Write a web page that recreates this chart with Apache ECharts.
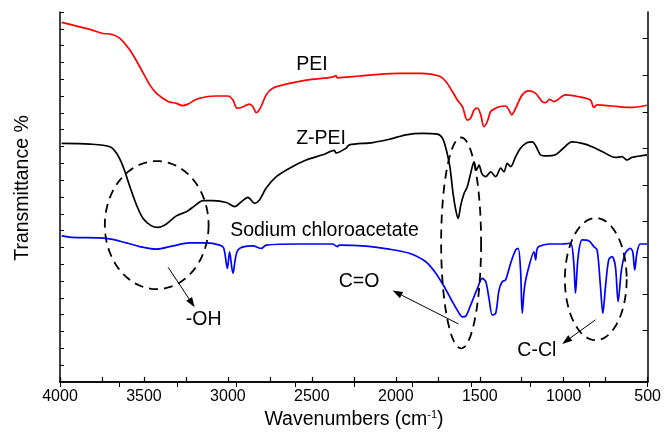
<!DOCTYPE html>
<html>
<head>
<meta charset="utf-8">
<script src="https://cdn.jsdelivr.net/npm/echarts@6/dist/echarts.min.js"></script>
<style>
  html, body { margin: 0; padding: 0; background: #fff; }
  #chart { width: 664px; height: 439px; }
</style>
</head>
<body>
<div id="chart"></div>
<script>
// PEI (red)
var peiWn = [3990, 3822, 3743, 3693, 3643, 3584, 3525, 3465, 3425, 3356, 3307, 3271, 3238, 3188, 3128,
  3069, 3000, 2970, 2946, 2920, 2871, 2851, 2831, 2807, 2772, 2733, 2653, 2534, 2376, 2356,
  2348, 2217, 2138, 1980, 1841, 1742, 1702, 1663, 1633, 1603, 1574, 1554, 1534, 1514, 1494,
  1475, 1455, 1435, 1405, 1385, 1346, 1326, 1310, 1286, 1247, 1207, 1167, 1128, 1108, 1084,
  1059, 989, 910, 841, 821, 801, 712, 593, 504];
var peiT = [97.2, 95.3, 94.2, 94.0, 92.9, 89.7, 85.2, 80.3, 78.0, 75.8, 75.3, 74.7, 75.1, 76.4, 77.1,
  77.3, 77.3, 76.2, 74.0, 74.2, 75.1, 74.4, 72.8, 74.0, 77.6, 79.4, 80.5, 81.6, 82.4, 82.8,
  82.2, 82.7, 83.0, 83.4, 83.4, 82.7, 81.2, 78.5, 76.2, 74.4, 70.8, 71.3, 73.5, 74.0, 72.2,
  69.0, 70.4, 73.1, 74.0, 74.4, 74.6, 73.5, 72.2, 74.0, 77.6, 78.7, 78.0, 75.8, 75.5, 76.4,
  75.8, 77.6, 77.1, 76.2, 74.2, 74.9, 74.6, 74.2, 74.8];

// Z-PEI (black)
var zpeiWn = [3990, 3822, 3703, 3663, 3624, 3584, 3544, 3505, 3455, 3416, 3366, 3307, 3247, 3198, 3148,
  3089, 3009, 2960, 2920, 2881, 2841, 2812, 2772, 2712, 2633, 2534, 2435, 2366, 2356, 2296,
  2277, 2138, 2039, 1940, 1841, 1752, 1722, 1699, 1678, 1659, 1643, 1629, 1613, 1593, 1574,
  1554, 1534, 1520, 1504, 1488, 1464, 1435, 1405, 1375, 1356, 1336, 1316, 1286, 1257, 1217,
  1187, 1164, 1138, 1098, 1049, 1009, 950, 890, 831, 772, 692, 653, 623, 593, 504];
var zpeiT = [64.5, 64.3, 63.6, 61.8, 58.2, 52.8, 47.8, 44.2, 42.2, 41.8, 42.7, 44.9, 46.0, 47.6, 49.0,
  49.0, 48.5, 47.4, 48.7, 49.9, 48.3, 49.2, 52.4, 55.5, 57.8, 60.0, 61.4, 62.6, 61.9, 63.2,
  64.1, 64.7, 65.6, 66.8, 67.2, 67.0, 65.9, 62.7, 58.2, 51.0, 46.5, 44.2, 47.8, 51.0, 52.8,
  56.4, 59.5, 57.3, 58.6, 56.4, 55.5, 56.8, 55.5, 57.8, 56.8, 59.1, 58.2, 60.9, 63.2, 64.7,
  64.9, 63.6, 61.4, 61.1, 61.4, 62.9, 64.9, 64.5, 63.6, 62.3, 60.7, 60.9, 60.0, 60.7, 61.4];

// Sodium chloroacetate (blue)
var scaWn = [3990, 3930, 3723, 3604, 3525, 3425, 3327, 3228, 3128, 3049, 3025, 3003, 2990, 2970, 2940,
  2851, 2801, 2772, 2574, 2376, 2348, 2336, 2198, 2039, 1920, 1821, 1762, 1712, 1663, 1623,
  1604, 1583, 1554, 1514, 1485, 1464, 1445, 1425, 1405, 1385, 1366, 1346, 1316, 1286, 1271,
  1257, 1247, 1233, 1207, 1177, 1167, 1160, 1148, 1088, 1009, 960, 940, 930, 914, 890,
  851, 821, 801, 781, 767, 751, 732, 712, 692, 676, 656, 633, 603, 589, 577,
  564, 544, 504];
var scaT = [39.5, 39.1, 38.8, 37.6, 36.6, 35.9, 36.8, 37.6, 37.6, 37.0, 36.2, 30.7, 35.2, 29.4, 35.7,
  36.8, 36.1, 37.0, 37.3, 37.3, 36.6, 37.0, 36.8, 35.9, 34.8, 32.5, 29.4, 25.8, 21.7, 18.6,
  17.6, 17.8, 20.8, 25.3, 28.0, 27.1, 22.6, 18.1, 18.6, 24.9, 27.1, 27.6, 32.1, 35.7, 36.1,
  30.3, 18.6, 25.8, 31.2, 35.2, 33.0, 35.7, 36.6, 37.3, 37.3, 37.5, 32.1, 24.0, 33.9, 38.4,
  38.2, 36.6, 35.7, 25.8, 18.6, 25.8, 33.0, 33.9, 31.2, 21.7, 30.3, 34.8, 36.1, 35.2, 30.3,
  34.8, 37.3, 37.3];

// tick positions (y axes have no labels)
var leftTicks = [];
for (var i = 0; i <= 22; i++) leftTicks.push(i * 100 / 22);
var rightTicks = [13.9, 23.8, 33.6, 43.5, 53.3, 63.2, 73.0, 82.8, 92.8];

// annotations, in data units (wavenumber, transmittance)
var labelText = ['PEI', 'Z-PEI', 'Sodium chloroacetate', '-OH', 'C=O', 'C-Cl'];
var labelWn = [2500, 2445, 2425, 3144, 2219, 1160];
var labelT = [85.9, 65.7, 40.8, 16.8, 27.1, 8.6];

var ellipseWn = [3424, 1611, 809];
var ellipseT = [42.4, 37.6, 27.8];
var ellipseRw = [309, 119, 184];
var ellipseRt = [17.3, 28.5, 16.5];

var arrowFrom = [[3356, 31.0], [1627, 15.7], [811, 16.8]];
var arrowTo = [[3198, 20.2], [2019, 24.7], [1009, 10.3]];

var FONT = 'Liberation Sans, Arial, Helvetica, sans-serif';

function pairs(xs, ys) {
  return xs.map(function (x, i) { return [x, ys[i]]; });
}

var myChart = echarts.init(document.getElementById('chart'), null, { renderer: 'canvas' });

function lineSeries(name, xs, ys, color) {
  return {
    name: name,
    type: 'line',
    data: pairs(xs, ys),
    showSymbol: false,
    smooth: 0.3,
    lineStyle: { color: color, width: 1.7 },
    itemStyle: { color: color },
    xAxisIndex: 0,
    yAxisIndex: 0
  };
}

var axisLine = { show: true, lineStyle: { color: '#000', width: 1.5 } };

var option = {
  animation: false,
  backgroundColor: '#fff',
  grid: { left: 60, right: 15, top: 12, bottom: 57, containLabel: false },
  xAxis: [
    {
      type: 'value',
      min: 500,
      max: 4000,
      interval: 500,
      inverse: true,
      position: 'bottom',
      axisLine: axisLine,
      axisTick: { show: true, inside: true, length: 5, lineStyle: { color: '#000', width: 1.2 } },
      minorTick: { show: true, splitNumber: 2, length: 5, lineStyle: { color: '#000', width: 1.2 } },
      axisLabel: {
        color: '#000', fontSize: 16, fontFamily: FONT, margin: 7,
        formatter: function (v) { return String(v); }
      },
      splitLine: { show: false }
    },
    {
      type: 'value',
      min: 0,
      max: 10,
      interval: 1,
      position: 'top',
      axisLine: axisLine,
      axisTick: { show: true, inside: true, length: 5, lineStyle: { color: '#000', width: 1 } },
      axisLabel: { show: false },
      splitLine: { show: false }
    }
  ],
  yAxis: [
    {
      type: 'value',
      min: 0,
      max: 100,
      position: 'left',
      axisLine: axisLine,
      axisTick: { show: true, inside: true, length: 4, customValues: leftTicks, lineStyle: { color: '#000', width: 1 } },
      axisLabel: { show: false },
      splitLine: { show: false }
    },
    {
      type: 'value',
      min: 0,
      max: 100,
      position: 'right',
      axisLine: axisLine,
      axisTick: { show: true, inside: true, length: 5, customValues: rightTicks, lineStyle: { color: '#000', width: 1 } },
      axisLabel: { show: false },
      splitLine: { show: false }
    }
  ],
  series: [
    lineSeries('PEI', peiWn, peiT, '#ff0000'),
    lineSeries('Z-PEI', zpeiWn, zpeiT, '#000000'),
    lineSeries('Sodium chloroacetate', scaWn, scaT, '#0000ff')
  ]
};

myChart.setOption(option);

function toPx(w, t) {
  return myChart.convertToPixel({ xAxisIndex: 0, yAxisIndex: 0 }, [w, t]);
}

function buildGraphic() {
  var els = [];
  // dashed ellipses
  for (var k = 0; k < ellipseWn.length; k++) {
    var c = toPx(ellipseWn[k], ellipseT[k]);
    var e = toPx(ellipseWn[k] + ellipseRw[k], ellipseT[k] + ellipseRt[k]);
    var rx = Math.abs(e[0] - c[0]);
    var ry = Math.abs(e[1] - c[1]);
    var pts = [];
    for (var a = 0; a < 120; a++) {
      var th = a / 120 * Math.PI * 2;
      pts.push([c[0] + rx * Math.cos(th), c[1] + ry * Math.sin(th)]);
    }
    els.push({
      type: 'polygon',
      shape: { points: pts },
      style: { fill: null, stroke: '#000', lineWidth: 1.8, lineDash: [9, 6] },
      z: 10
    });
  }
  // arrows
  for (var m = 0; m < arrowFrom.length; m++) {
    var p0 = toPx(arrowFrom[m][0], arrowFrom[m][1]);
    var p1 = toPx(arrowTo[m][0], arrowTo[m][1]);
    var dx = p1[0] - p0[0], dy = p1[1] - p0[1];
    var len = Math.sqrt(dx * dx + dy * dy);
    var ux = dx / len, uy = dy / len;
    var hl = 10, hw = 3.5;
    var bx = p1[0] - ux * hl, by = p1[1] - uy * hl;
    els.push({
      type: 'line',
      shape: { x1: p0[0], y1: p0[1], x2: bx, y2: by },
      style: { stroke: '#000', lineWidth: 1 },
      z: 10
    });
    els.push({
      type: 'polygon',
      shape: { points: [[p1[0], p1[1]], [bx - uy * hw, by + ux * hw], [bx + uy * hw, by - ux * hw]] },
      style: { fill: '#000', stroke: null },
      z: 10
    });
  }
  // text labels
  for (var n = 0; n < labelText.length; n++) {
    var p = toPx(labelWn[n], labelT[n]);
    els.push({
      type: 'text',
      x: p[0],
      y: p[1],
      style: {
        text: labelText[n], fill: '#000', fontSize: 19.5, fontFamily: FONT,
        align: 'center', verticalAlign: 'middle', textAlign: 'center', textVerticalAlign: 'middle'
      },
      z: 11
    });
  }
  // axis titles
  els.push({
    type: 'text',
    x: 22.5,
    y: 188,
    rotation: Math.PI / 2,
    style: {
      text: 'Transmittance %', fill: '#000', fontSize: 19.5, fontFamily: FONT,
      align: 'center', verticalAlign: 'middle', textAlign: 'center', textVerticalAlign: 'middle'
    }
  });
  els.push({
    type: 'text',
    x: 354,
    y: 420,
    style: {
      text: '{a|Wavenumbers (cm}{b|-1}{a|)}',
      fill: '#000',
      fontFamily: FONT,
      align: 'center', verticalAlign: 'middle', textAlign: 'center', textVerticalAlign: 'middle',
      rich: {
        a: { fontSize: 19.5, fontFamily: FONT, fill: '#000', lineHeight: 22 },
        b: { fontSize: 11, fontFamily: FONT, fill: '#000', verticalAlign: 'top' }
      }
    }
  });
  return els;
}

myChart.setOption({ graphic: buildGraphic() });
</script>
</body>
</html>
